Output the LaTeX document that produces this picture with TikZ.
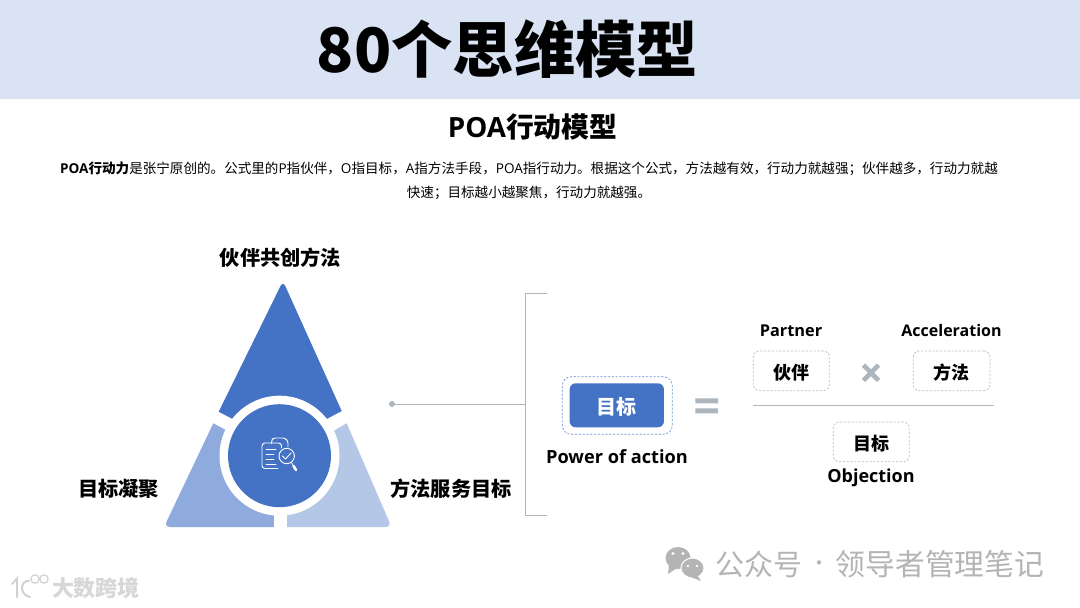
\documentclass[tikz,border=0pt]{standalone}
\usepackage{fontspec}
\setmainfont{Noto Sans CJK SC}
\newfontfamily\lat{Open Sans}
\usetikzlibrary{calc}
\definecolor{band}{HTML}{DAE3F3}
\definecolor{blueA}{HTML}{4472C4}
\definecolor{blueB}{HTML}{8FAADC}
\definecolor{blueC}{HTML}{B4C7E7}
\definecolor{greyL}{HTML}{ADB5BD}
\definecolor{greyW}{HTML}{B4B4B4}
\definecolor{greyK}{HTML}{BDBDBD}
\newcommand{\lowertxt}[1]{\raisebox{-1.6pt}[\height][\depth]{#1}}
\tikzset{
  x=1pt,y=-1pt,
  txt/.style={inner sep=0pt,outer sep=0pt,text=black,font=\bfseries\fontsize{#1}{#1}\selectfont},
  txt/.default=20,
  dashbox/.style={draw=#1,line width=0.7pt,dash pattern=on 2.2pt off 1.6pt,rounded corners=6pt,fill=white},
  bar/.style={draw=greyL,line width=0.9pt},
  ico/.style={draw=white,line width=0.9pt,line cap=round,line join=round},
  wm/.style={inner sep=0pt,text=greyW,font=\fontsize{#1}{#1}\selectfont}
}
\begin{document}
\begin{tikzpicture}
\useasboundingbox (0,0) rectangle (1080,608);
\fill[white] (0,0) rectangle (1080,608);
\fill[band] (0,0) rectangle (1080,99);
\node[txt=61.3] (title) at (507.5,49) {80个思维模型};
\node[txt=27.8] (sub) at (532.5,127) {\lat POA\rmfamily 行动模型};
\node[inner sep=0pt,align=center,text=black,font=\fontsize{13.57}{24}\selectfont] (para) at (529,181)
 {{\bfseries{\lat POA}行动力}是张宁原创的。公式里的{\lat P}指伙伴，{\lat O}指目标，{\lat A}指方法手段，{\lat POA}指行动力。根据这个公式，方法越有效，行动力就越强；伙伴越多，行动力就越\\
 快速；目标越小越聚焦，行动力就越强。};

% triangle
\fill[blueA] (218.7,411.7) [rounded corners=5pt] -- (283,281) [sharp corners] -- (341.7,411) -- (325.7,419.5) -- (280,460) -- (232.7,419) -- cycle;
\fill[blueB] (213.3,423.3) -- (225.7,430) -- (274,470) -- (274,527) [rounded corners=6pt] -- (164,527) [sharp corners] -- cycle;
\fill[blueC] (346.7,423.3) -- (333.3,431) -- (287,470) -- (287,527) [rounded corners=6pt] -- (391.5,527) [sharp corners] -- cycle;
\fill[white] (279.5,455.7) circle[radius=60pt];
\fill[white] (274,500) rectangle (287,528);
\fill[blueA] (279.5,455.7) circle[radius=51.5pt];
% icon
\draw[ico,rounded corners=2.5pt] (271.5,442.7) -- (271.5,441) -- (273,438) -- (285,438) -- (288,441) -- (288,447);
\draw[ico,rounded corners=3pt] (278,468.5) -- (262,468.5) -- (262,443) -- (281.5,443) -- (281.5,448);
\draw[ico] (266,449)--(276,449) (266,454)--(274,454) (266,459)--(274,459) (266,464)--(276,464);
\draw[ico,fill=blueA] (286.7,456) circle[radius=7.7pt];
\draw[ico] (282.5,456)--(285.5,459)--(291,453);
\draw[white,line width=0.8pt] (291.5,462.5)--(293.5,466);
\draw[white,line width=2.6pt,line cap=round] (293.5,466)--(296,470);

\node[txt=20.2] (la) at (280.5,257.5) {伙伴共创方法};
\node[txt=20.2] (lb) at (118.5,488.5) {目标凝聚};
\node[txt=20.2] (lc) at (451,488.5) {方法服务目标};

% connector and bracket
\node[circle,fill=greyL,inner sep=0pt,minimum size=6pt] (dot) at (392,404) {};
\coordinate (bm) at (525,404);
\coordinate (bt) at (525,293);
\coordinate (bb) at (525,515);
\coordinate (bte) at (547,293);
\coordinate (bbe) at (547,515);
\draw[bar] (dot) -- (bm);
\draw[bar] (bte) -- (bt) -- (bb) -- (bbe);

% left of equation
\node[dashbox=blueA!75,minimum width=110pt,minimum height=57.6pt,inner sep=0pt,rounded corners=9pt] (outer) at (617.3,405.5) {};
\node[fill=blueA,rounded corners=6pt,minimum width=94.3pt,minimum height=44pt,inner sep=0pt,text=white,font=\bfseries\fontsize{20}{20}\selectfont] (goal) at (616.8,405.3) {\lowertxt{目标}};
\node[txt=18.2] (poa) at (617,456.5) {\lat Power of action};
\fill[greyL] (695.3,398.3) rectangle (718,403.3) (695.3,408.3) rectangle (718,413.3);

% right of equation
\node[txt=16.3] (pa) at (791,330.5) {\lat Partner};
\node[txt=16] (ac) at (951.5,330.5) {\lat Acceleration};
\node[dashbox=greyK,minimum width=76pt,minimum height=39.7pt,inner sep=0pt,txt=18] (b1) at (791.3,370.8) {\lowertxt{伙伴}};
\node[dashbox=greyK,minimum width=76.7pt,minimum height=39.7pt,inner sep=0pt,txt=18] (b2) at (951.6,370.8) {\lowertxt{方法}};
\node[dashbox=greyK,minimum width=76pt,minimum height=39.7pt,inner sep=0pt,txt=18] (b3) at (871.3,441.8) {\lowertxt{目标}};
\node[txt=18] (ob) at (871,477.5) {\lat Objection};
\coordinate (fl) at (753.3,405.5);
\coordinate (fr) at (993.7,405.5);
\draw[greyL,line width=0.8pt] (fl) -- (fr);
\draw[greyL,line width=4.6pt] (863.5,365)--(878.5,380.5) (878.5,365)--(863.5,380.5);

% watermark right
\fill[greyW] (678,558) ellipse[x radius=12.5pt,y radius=11pt];
\fill[greyW] (669,565)--(668,574)--(677,568)--cycle;
\fill[greyW,draw=white,line width=1pt] (692.5,568) ellipse[x radius=11.5pt,y radius=10pt];
\fill[greyW] (697,575)--(701,581)--(691,577)--cycle;
\fill[white] (673,553.5) circle[radius=1.6pt] (683,553.5) circle[radius=1.6pt] (688,566) circle[radius=1.4pt] (697,566) circle[radius=1.4pt];
\node[wm=29,anchor=west] (w1) at (715,564) {公众号};
\node[wm=20] (w2) at (819,566) {·};
\node[wm=29.8,anchor=west] (w3) at (835.5,564) {领导者管理笔记};

% watermark left
\draw[greyK!70,line width=2pt,line cap=round] (12,584)--(17,578.5)--(17,597) (29,581) .. controls (20,580) and (19,595) .. (30,597);
\draw[greyK!70,line width=1.2pt] (35,579) circle[radius=4.2pt] (44,579) circle[radius=4.2pt];
\node[inner sep=0pt,text=greyK!60,font=\bfseries\fontsize{22}{22}\selectfont] (w4) at (96,588) {大数跨境};
\end{tikzpicture}
\end{document}
